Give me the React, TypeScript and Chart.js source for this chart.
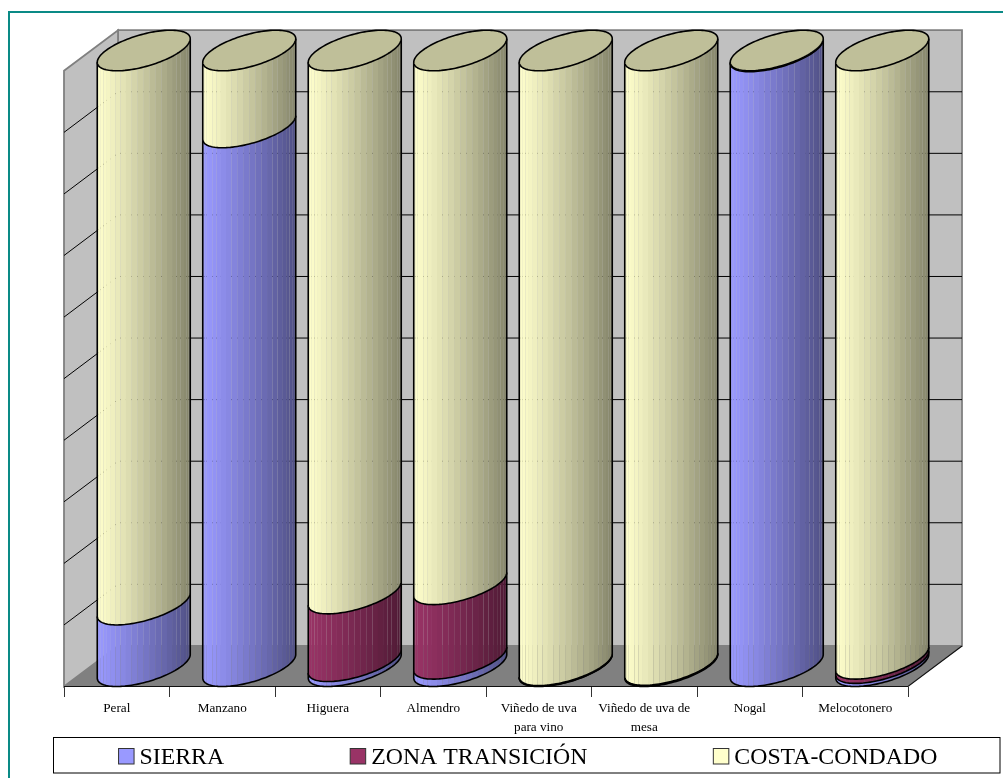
import React, { useEffect, useRef } from "react";
import Chart from "chart.js/auto";

// Share of each crop per zone, in percent of the crop's total.
const categories = [
  "Peral",
  "Manzano",
  "Higuera",
  "Almendro",
  ["Viñedo de uva", "para vino"],
  ["Viñedo de uva de", "mesa"],
  "Nogal",
  "Melocotonero",
];
const sierra = [10, 87.5, 0.8, 1.2, 0.05, 0.15, 99.85, 0.5];
const zonaTransicion = [0, 0, 11, 12.1, 0.1, 0.05, 0, 0.7];
const costaCondado = [90, 12.5, 88.2, 86.7, 99.85, 99.8, 0.15, 98.8];
const seriesNames = ["SIERRA", "ZONA TRANSICIÓN", "COSTA-CONDADO"];
const seriesColors = ["#9999FF", "#993366", "#FFFFCC"];

const SERIF = "'Liberation Serif', 'Times New Roman', serif";
const DEPTH_X = 54; // horizontal run of the floor, front edge to back wall
const DEPTH_Y = 40.6; // vertical rise of the floor, front edge to back wall
const BANDS = 24; // facets around the visible half of each cylinder

function shade(hex: string, k: number) {
  const n = parseInt(hex.slice(1), 16);
  const c = [(n >> 16) & 255, (n >> 8) & 255, n & 255].map((v) => Math.round(v * k));
  return `rgb(${c[0]},${c[1]},${c[2]})`;
}

// Projected circle: the floor's depth axis shears the ellipse sideways.
function ellipsePoint(cx: number, cy: number, rx: number, s: number) {
  const sinPhi = (DEPTH_X / 2) / rx;
  const phi = Math.asin(Math.min(1, sinPhi));
  return [cx + rx * Math.cos(s), cy - (DEPTH_Y / 2) * Math.sin(s + phi)];
}

function traceArc(ctx: CanvasRenderingContext2D, cx: number, cy: number, rx: number, from: number, to: number, start: boolean) {
  const steps = Math.max(2, Math.ceil((Math.abs(to - from) / Math.PI) * 60));
  for (let i = 0; i <= steps; i++) {
    const [x, y] = ellipsePoint(cx, cy, rx, from + ((to - from) * i) / steps);
    if (i === 0 && start) ctx.moveTo(x, y);
    else ctx.lineTo(x, y);
  }
}

function drawSegment(ctx: CanvasRenderingContext2D, cx: number, yTop: number, yBottom: number, rx: number, color: string) {
  for (let i = 0; i < BANDS; i++) {
    const a = -Math.PI + (Math.PI * i) / BANDS;
    const b = -Math.PI + (Math.PI * (i + 1)) / BANDS;
    const t = (Math.cos((a + b) / 2) + 1) / 2;
    ctx.fillStyle = shade(color, 1 - 0.48 * Math.pow(t, 1.15));
    ctx.beginPath();
    traceArc(ctx, cx, yTop, rx, a, b, true);
    traceArc(ctx, cx, yBottom, rx, b, a, false);
    ctx.closePath();
    ctx.fill();
  }
  ctx.strokeStyle = "#000";
  ctx.lineWidth = 1.6;
  ctx.beginPath();
  traceArc(ctx, cx, yTop, rx, -Math.PI, -Math.PI, true);
  traceArc(ctx, cx, yBottom, rx, -Math.PI, 0, false);
  traceArc(ctx, cx, yTop, rx, 0, 0, false);
  ctx.stroke();
}

const cylinderPlugin = {
  id: "cylinders",
  beforeDraw(chart: any) {
    const ctx = chart.ctx;
    ctx.save();
    ctx.strokeStyle = "#0A8A86";
    ctx.lineWidth = 2;
    ctx.beginPath();
    ctx.moveTo(9, 790);
    ctx.lineTo(9, 12);
    ctx.lineTo(1015, 12);
    ctx.stroke();
    ctx.restore();
  },
  beforeDatasetsDraw(chart: any) {
    const { ctx, scales } = chart;
    const x = scales.x;
    const y = scales.y;
    const left = x.left;
    const right = x.right;
    const bottom = y.getPixelForValue(0);
    const top = y.getPixelForValue(100);
    const backLeft = left + DEPTH_X;
    const backRight = right + DEPTH_X;
    const backBottom = bottom - DEPTH_Y;
    const backTop = top - DEPTH_Y;

    ctx.save();
    // Left wall, back wall and floor of the box.
    ctx.lineJoin = "miter";
    ctx.lineWidth = 1.8;
    ctx.strokeStyle = "#808080";
    ctx.fillStyle = "#C0C0C0";
    ctx.beginPath();
    ctx.rect(backLeft, backTop, backRight - backLeft, backBottom - backTop);
    ctx.fill();
    ctx.stroke();
    ctx.beginPath();
    ctx.moveTo(left, bottom);
    ctx.lineTo(backLeft, backBottom);
    ctx.lineTo(backLeft, backTop);
    ctx.lineTo(left, top);
    ctx.closePath();
    ctx.fill();
    ctx.stroke();

    ctx.fillStyle = "#808080";
    ctx.beginPath();
    ctx.moveTo(left, bottom);
    ctx.lineTo(right, bottom);
    ctx.lineTo(backRight, backBottom);
    ctx.lineTo(backLeft, backBottom);
    ctx.closePath();
    ctx.fill();

    // Gridlines run along the left wall and across the back wall.
    ctx.strokeStyle = "#000";
    ctx.lineWidth = 1;
    for (const tick of y.ticks) {
      if (tick.value <= 0 || tick.value >= 100) continue;
      const py = y.getPixelForValue(tick.value);
      ctx.beginPath();
      ctx.moveTo(left, py);
      ctx.lineTo(backLeft, py - DEPTH_Y);
      ctx.lineTo(backRight, py - DEPTH_Y);
      ctx.stroke();
    }

    ctx.strokeStyle = "#111";
    ctx.lineWidth = 1.2;
    ctx.beginPath();
    ctx.moveTo(left, bottom);
    ctx.lineTo(right, bottom);
    ctx.lineTo(backRight, backBottom);
    ctx.stroke();

    // Stacked cylinders, built from the bars the controller laid out.
    const metas = chart.data.datasets.map((_: any, i: number) => chart.getDatasetMeta(i));
    chart.data.labels.forEach((_: any, j: number) => {
      let topBar: any = null;
      let topColor = "";
      metas.forEach((meta: any, i: number) => {
        const bar = meta.data[j];
        const value = chart.data.datasets[i].data[j];
        if (!value) return;
        const p = bar.getProps(["x", "y", "base", "width"], true);
        const color = chart.data.datasets[i].backgroundColor;
        drawSegment(ctx, p.x + DEPTH_X / 2, p.y - DEPTH_Y / 2, p.base - DEPTH_Y / 2, p.width / 2, color);
        topBar = p;
        topColor = color;
      });
      if (!topBar) return;
      const cx = topBar.x + DEPTH_X / 2;
      const cy = topBar.y - DEPTH_Y / 2;
      ctx.fillStyle = shade(topColor, 0.75);
      ctx.strokeStyle = "#000";
      ctx.lineWidth = 1.6;
      ctx.beginPath();
      traceArc(ctx, cx, cy, topBar.width / 2, -Math.PI, Math.PI, true);
      ctx.closePath();
      ctx.fill();
      ctx.stroke();
    });
    ctx.restore();
    return false;
  },
  afterDraw(chart: any) {
    // Boxed legend along the bottom, entries spaced evenly and centred.
    const ctx = chart.ctx;
    const box = { left: 53.5, top: 737.5, right: 1000, bottom: 773 };
    const swatch = 15.5;
    const textGap = 5.5;
    const itemGap = 126;
    ctx.save();
    ctx.strokeStyle = "#000";
    ctx.lineWidth = 1;
    ctx.strokeRect(box.left, box.top, box.right - box.left, box.bottom - box.top);
    ctx.font = `23.8px ${SERIF}`;
    ctx.textBaseline = "alphabetic";
    ctx.textAlign = "left";
    const names: string[] = chart.data.datasets.map((d: any) => d.label);
    const widths = names.map((n) => ctx.measureText(n).width);
    const total = widths.reduce((a, w) => a + swatch + textGap + w, 0) + itemGap * (names.length - 1);
    let cursor = (box.left + box.right) / 2 - total / 2 + 1.2;
    names.forEach((name, i) => {
      ctx.fillStyle = chart.data.datasets[i].backgroundColor;
      ctx.strokeStyle = "#333";
      ctx.fillRect(cursor, 748.5, swatch, swatch);
      ctx.strokeRect(cursor, 748.5, swatch, swatch);
      ctx.fillStyle = "#000";
      ctx.fillText(name, cursor + swatch + textGap, 764);
      cursor += swatch + textGap + widths[i] + itemGap;
    });
    ctx.restore();
  },
};

export default function App() {
  const ref = useRef<HTMLCanvasElement | null>(null);

  useEffect(() => {
    const series = [sierra, zonaTransicion, costaCondado];
    const chart = new Chart(ref.current as HTMLCanvasElement, {
      type: "bar",
      data: {
        labels: categories as any,
        datasets: series.map((data, i) => ({
          label: seriesNames[i],
          data,
          backgroundColor: seriesColors[i],
          barPercentage: 1,
          categoryPercentage: 0.8815,
        })),
      },
      options: {
        responsive: false,
        animation: false,
        events: [],
        layout: { autoPadding: false, padding: { left: 64, right: 95, top: 70.8, bottom: 0 } },
        plugins: { legend: { display: false }, tooltip: { enabled: false } },
        scales: {
          x: {
            stacked: true,
            border: { display: false },
            grid: { drawOnChartArea: false, drawTicks: true, tickLength: 10.5, color: "#333", lineWidth: 1 },
            ticks: {
              autoSkip: false,
              maxRotation: 0,
              minRotation: 0,
              padding: 2,
              color: "#000",
              font: { family: SERIF, size: 13.2, lineHeight: 1.45 },
            },
            afterFit(scale: any) {
              scale.height = 91.5;
              scale.paddingLeft = 0;
              scale.paddingRight = 0;
            },
          },
          y: {
            stacked: true,
            display: false,
            min: 0,
            max: 100,
            ticks: { stepSize: 10 },
          },
        },
      },
      plugins: [cylinderPlugin],
    } as any);
    return () => chart.destroy();
  }, []);

  return (
    <div style={{ position: "absolute", left: 0, top: 0, width: 1003, height: 778, overflow: "hidden", background: "#fff" }}>
      <canvas ref={ref} width={1003} height={778} style={{ display: "block", width: 1003, height: 778 }} />
    </div>
  );
}
